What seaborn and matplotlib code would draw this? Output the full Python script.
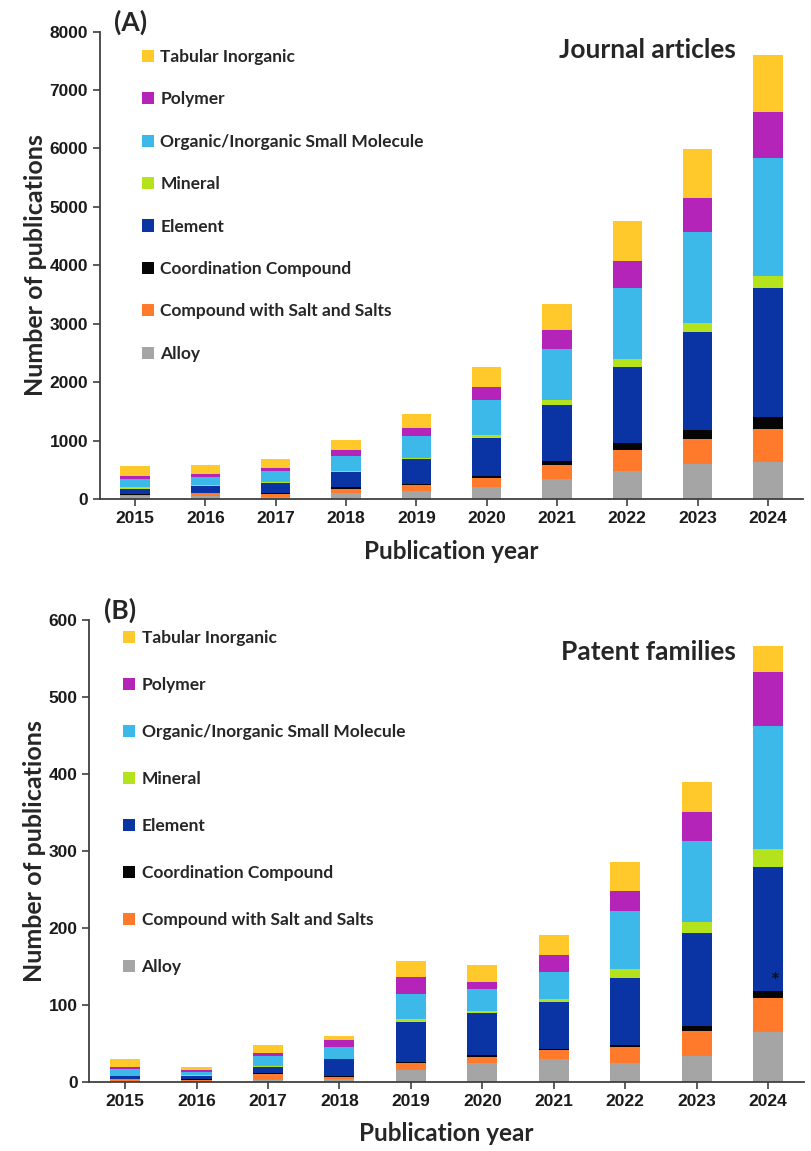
import numpy as np
import pandas as pd
import matplotlib.pyplot as plt
from matplotlib.patches import Patch
import seaborn as sns

# =========================
# 1. DATA
# =========================
years = ['2015', '2016', '2017', '2018', '2019', '2020', '2021', '2022', '2023', '2024']

categories = [
    'Alloy', 'Compound with Salt and Salts', 'Coordination Compound', 'Element',
    'Mineral', 'Organic/Inorganic Small Molecule', 'Polymer', 'Tabular Inorganic'
]

# (A) journal articles, one list per category, stacked bottom -> top
journal_alloy = [52, 52, 41, 99, 144, 202, 341, 486, 607, 630]
journal_salt = [23, 47, 46, 75, 93, 151, 232, 347, 428, 567]
journal_coord = [12, 11, 12, 23, 23, 46, 75, 121, 150, 203]
journal_element = [92, 104, 167, 266, 417, 648, 954, 1313, 1678, 2215]
journal_mineral = [18, 17, 17, 23, 29, 46, 87, 133, 150, 197]
journal_small_mol = [150, 145, 191, 248, 364, 607, 885, 1215, 1562, 2031]
journal_polymer = [52, 52, 58, 99, 139, 220, 312, 463, 573, 780]
journal_tabular = [162, 150, 145, 173, 249, 341, 451, 688, 838, 983]

# (B) patent families
patent_alloy = [1.3, 1, 2, 3, 15, 24, 29, 24, 34, 64]
patent_salt = [1.7, 1.5, 8, 3.5, 9, 8.5, 12, 21, 32, 45]
patent_coord = [0.5, 0.5, 1, 1, 2, 2, 2, 3, 6, 9]
patent_element = [3.5, 5, 8.5, 21.5, 52, 55, 61, 87, 121, 161]
patent_mineral = [0.8, 0.7, 1.5, 1, 3, 2, 4, 11, 14, 24]
patent_small_mol = [8.2, 3.3, 12, 15.5, 33, 29, 34, 76, 106, 159]
patent_polymer = [3.5, 3, 4, 8.5, 22, 9, 23, 26, 37, 70]
patent_tabular = [9.5, 4.5, 11, 5, 21, 22, 26, 37, 39, 34]

colors = {
    'Alloy': '#a5a5a5',
    'Compound with Salt and Salts': '#ff7a2b',
    'Coordination Compound': '#050505',
    'Element': '#0a33a3',
    'Mineral': '#b4e21c',
    'Organic/Inorganic Small Molecule': '#3cb9e9',
    'Polymer': '#b524b9',
    'Tabular Inorganic': '#ffc92c',
}

journal = pd.DataFrame({
    'Alloy': journal_alloy,
    'Compound with Salt and Salts': journal_salt,
    'Coordination Compound': journal_coord,
    'Element': journal_element,
    'Mineral': journal_mineral,
    'Organic/Inorganic Small Molecule': journal_small_mol,
    'Polymer': journal_polymer,
    'Tabular Inorganic': journal_tabular,
}, index=years)

patent = pd.DataFrame({
    'Alloy': patent_alloy,
    'Compound with Salt and Salts': patent_salt,
    'Coordination Compound': patent_coord,
    'Element': patent_element,
    'Mineral': patent_mineral,
    'Organic/Inorganic Small Molecule': patent_small_mol,
    'Polymer': patent_polymer,
    'Tabular Inorganic': patent_tabular,
}, index=years)

# =========================
# 2. STYLE
# =========================
sns.set_style('ticks')
plt.rcParams['font.family'] = ['Lato', 'DejaVu Sans']
plt.rcParams['font.weight'] = 'bold'
tick_font = {'family': 'Liberation Sans', 'weight': 'bold', 'size': 12.5}
axis_col = '#404040'


def stacked_panel(ax, df, ymax, ystep, title, title_y, tag, leg_x, leg_y, legend_spacing):
    # classic seaborn stacking: draw cumulative totals, tallest first
    cum = df[categories].cumsum(axis=1)
    for cat in reversed(categories):
        sns.barplot(x=df.index, y=cum[cat].values, color=colors[cat],
                    saturation=1, width=0.42, linewidth=0, edgecolor='none',
                    ax=ax, zorder=2)

    ax.set_ylim(0, ymax)
    ax.set_yticks(np.arange(0, ymax + 1, ystep))
    ax.set_xlim(-0.5, len(years) - 0.5)
    sns.despine(ax=ax)
    for side in ['left', 'bottom']:
        ax.spines[side].set_color(axis_col)
        ax.spines[side].set_linewidth(1.3)
    ax.tick_params(colors=axis_col, length=5, width=1.2, labelcolor='#1a1a1a')
    for lbl in ax.get_xticklabels() + ax.get_yticklabels():
        lbl.set_fontproperties(tick_font)

    ax.set_xlabel('Publication year', fontsize=17.5, fontweight='bold', labelpad=10)
    ax.set_ylabel('Number of publications', fontsize=18, fontweight='bold', labelpad=2)
    ax.text(0.905, title_y, title, transform=ax.transAxes, ha='right', va='center',
            fontsize=19, fontweight='bold')
    ax.text(0.02, 1.02, tag, transform=ax.transAxes, ha='left', va='center',
            fontsize=19, fontweight='bold')

    handles = [Patch(facecolor=colors[c], edgecolor='none', label=c)
               for c in reversed(categories)]
    ax.legend(handles=handles, loc='upper left', bbox_to_anchor=(leg_x, leg_y),
              frameon=False, fontsize=12.5, handlelength=0.7, handleheight=0.7,
              handletextpad=0.35, labelspacing=legend_spacing, borderaxespad=0.2)


# =========================
# 3. FIGURE
# =========================
fig = plt.figure(figsize=(8.12, 11.51), dpi=100)
ax_a = fig.add_axes([0.123, 0.5665, 0.866, 0.406])
ax_b = fig.add_axes([0.110, 0.0602, 0.880, 0.4011])

stacked_panel(ax_a, journal, 8000, 1000, 'Journal articles', 0.96, '(A)', 0.045, 0.985, 1.52)
stacked_panel(ax_b, patent, 600, 100, 'Patent families', 0.93, '(B)', 0.033, 1.0, 1.78)

# small mark on the 2024 element segment of (B)
ax_b.text(9.1, 130, '*', ha='center', va='center', fontsize=15, color='#111111', zorder=3)

fig.savefig('out.png', dpi=100)
